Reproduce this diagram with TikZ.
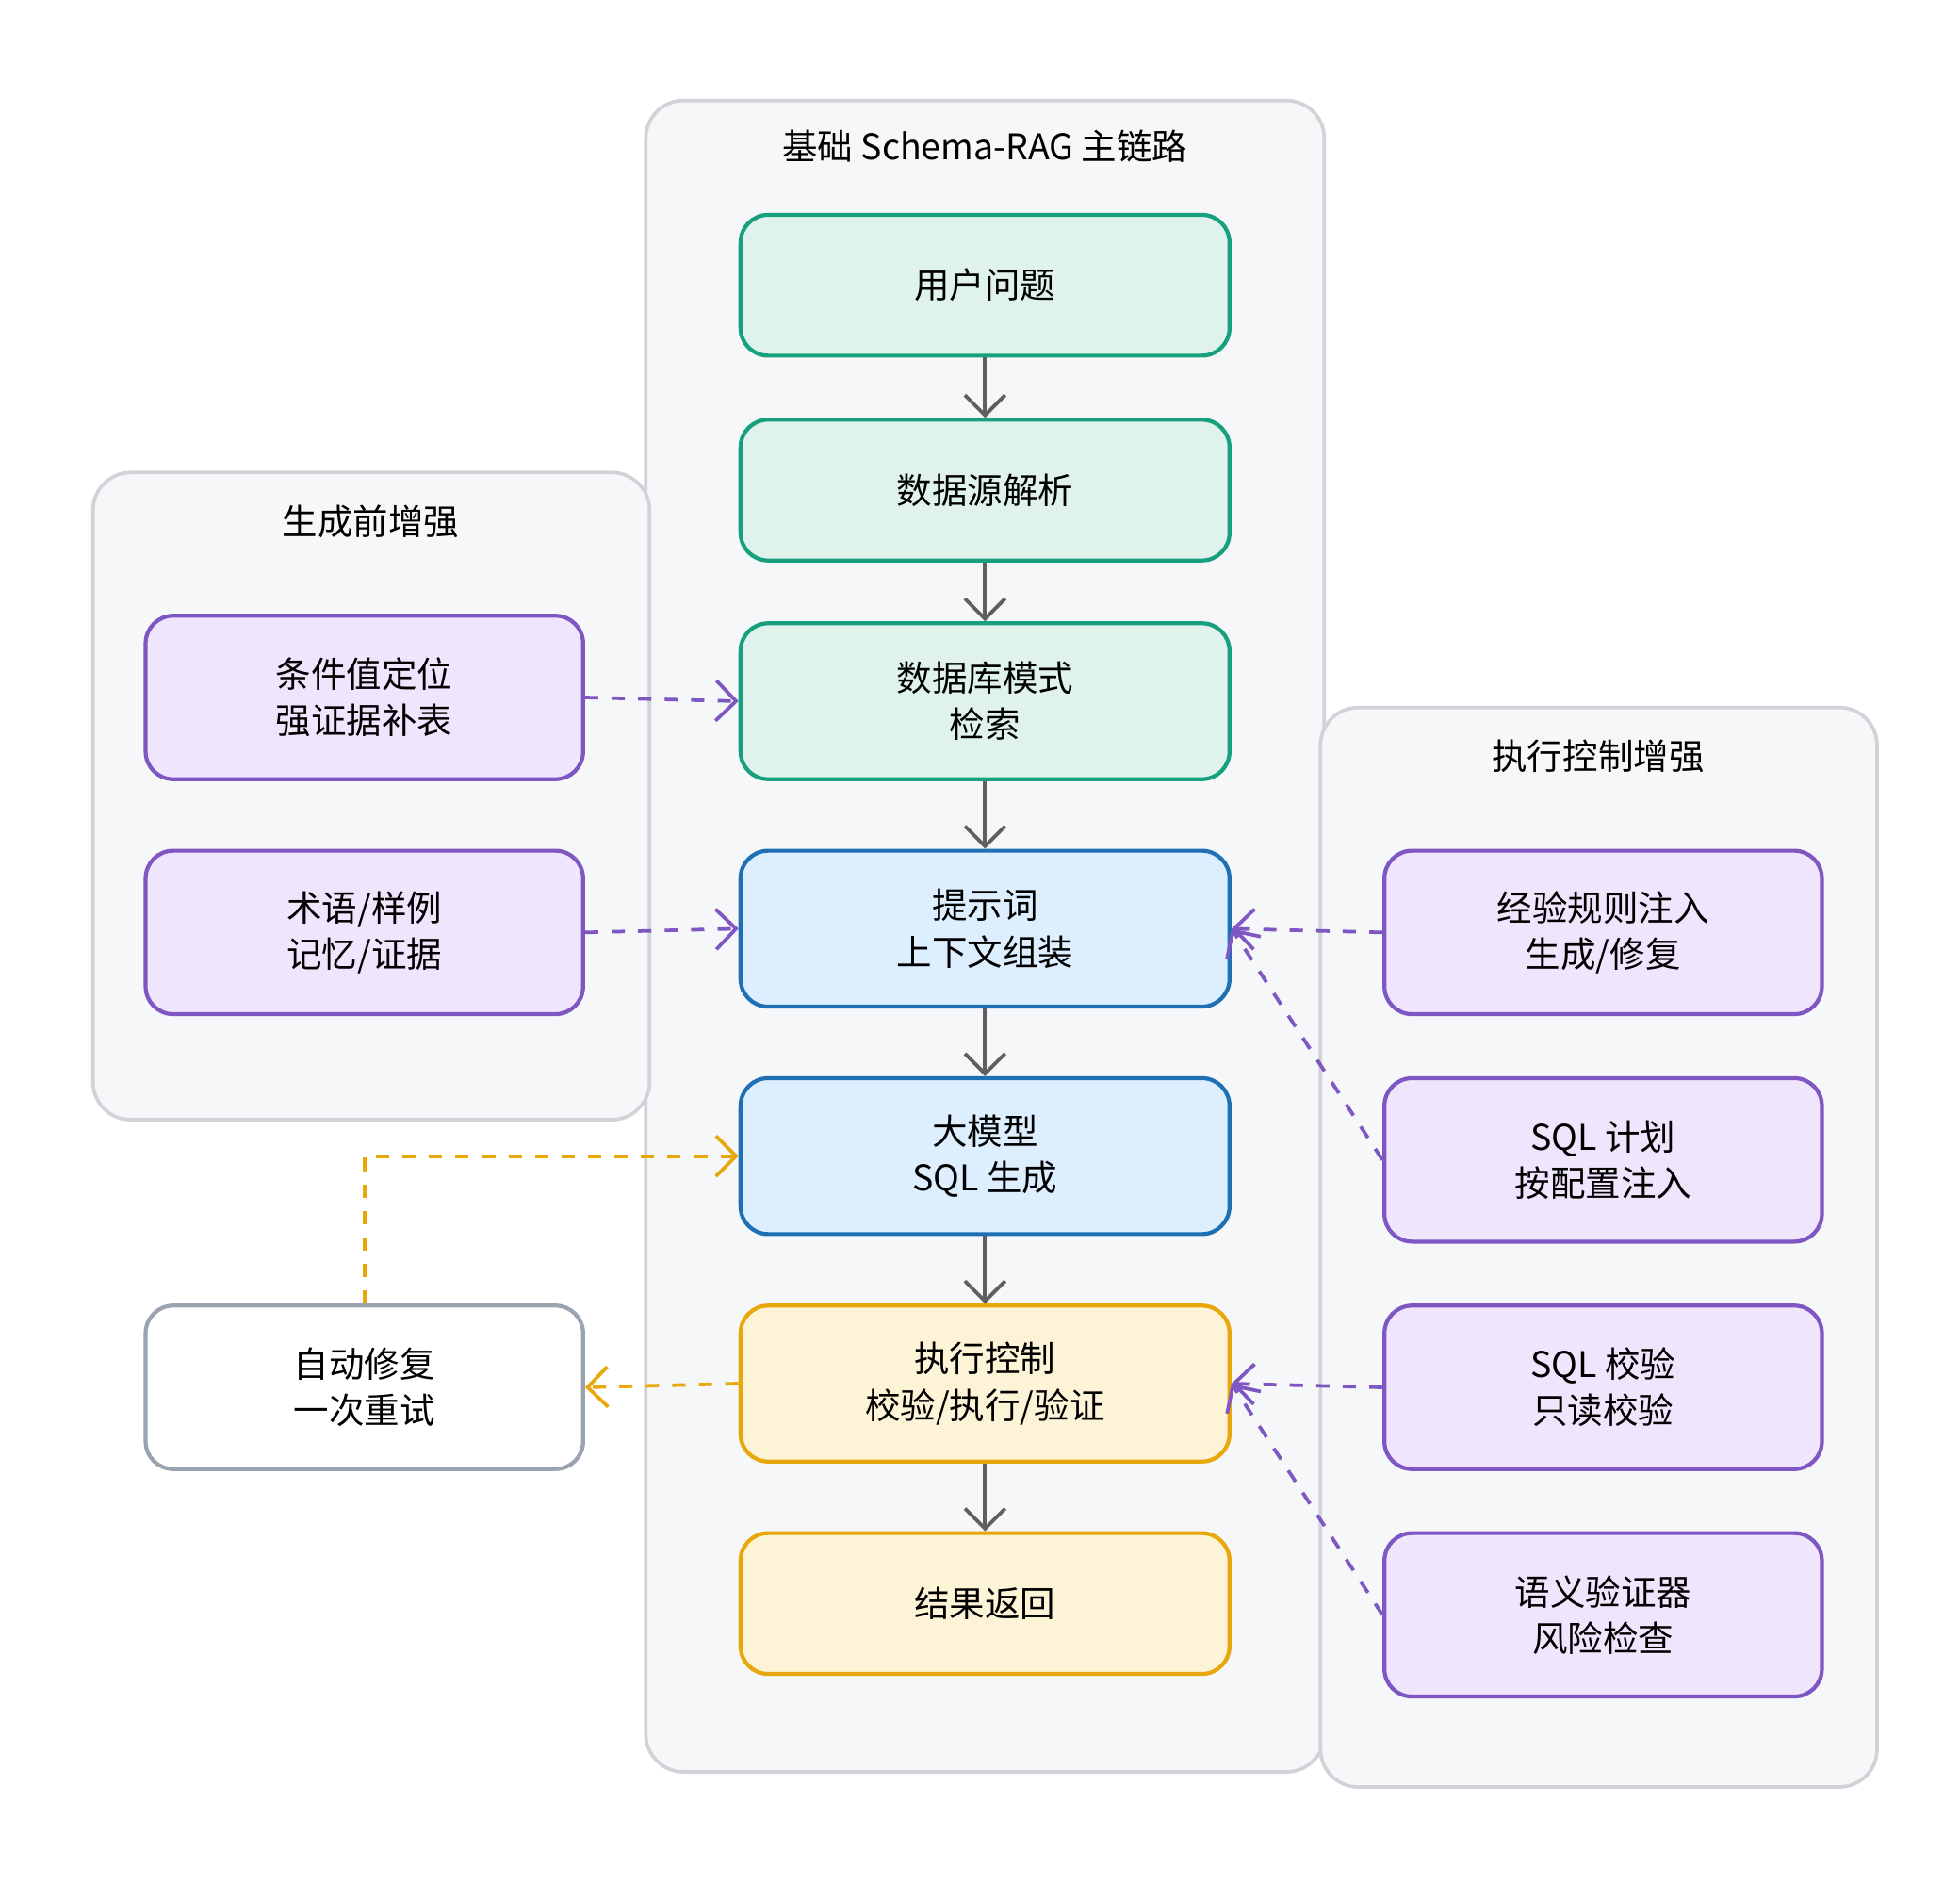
\documentclass[tikz,border=0pt]{standalone}
\usepackage{fontspec}
\setmainfont{Noto Sans CJK SC}
\usetikzlibrary{arrows.meta}
\definecolor{grnfill}{HTML}{DFF2EB}\definecolor{grnline}{HTML}{16A07E}
\definecolor{bluefill}{HTML}{DDEEFE}\definecolor{blueline}{HTML}{1F6FB5}
\definecolor{yelfill}{HTML}{FDF3D6}\definecolor{yelline}{HTML}{E8A70B}
\definecolor{purfill}{HTML}{EFE5FC}\definecolor{purline}{HTML}{7E57C2}
\definecolor{panfill}{HTML}{F6F7F9}\definecolor{panline}{HTML}{D2D3D8}
\definecolor{grayline}{HTML}{9AA3B0}\definecolor{flowline}{HTML}{5F5F5F}
\begin{document}
\begin{tikzpicture}[x=0.01cm, y=-0.01cm,
          every node/.style={font=\fontsize{8}{10.5}\selectfont, align=center},
          panel/.style={draw=panline, fill=panfill, line width=0.8pt, rounded corners=0.3cm},
          box/.style={rectangle, rounded corners=0.22cm, line width=0.9pt, minimum width=3.89cm},
          main/.style={box, minimum height=1.24cm},
          side/.style={box, minimum width=3.48cm, minimum height=1.30cm, draw=purline, fill=purfill},
          green/.style={main, draw=grnline, fill=grnfill},
          blue/.style={main, draw=blueline, fill=bluefill},
          yellow/.style={main, draw=yelline, fill=yelfill},
          flow/.style={draw=flowline, line width=0.8pt, -{Straight Barb[length=1.6mm]}},
          aux/.style={draw=purline, dashed, line width=0.8pt, -{Straight Barb[length=1.6mm]}},
          fix/.style={draw=yelline, dashed, line width=0.8pt, -{Straight Barb[length=1.6mm]}}
        ]
        \useasboundingbox (0,0) rectangle (1560,1500);

        % panels
        \draw[panel] (514,80) rectangle (1054,1410);
        \draw[panel] (74,376) rectangle (517,891);
        \draw[panel] (1051,563) rectangle (1494,1422);
        \node (tmain) at (784,116) {基础 Schema-RAG 主链路};
        \node (tpre) at (295,415) {生成前增强};
        \node (texec) at (1272,602) {执行控制增强};

        % main chain
        \node[green, minimum height=1.12cm] (ask) at (784,227) {用户问题};
        \node[green, minimum height=1.12cm] (parse) at (784,390) {数据源解析};
        \node[green] (schema) at (784,558) {数据库模式\\检索};
        \node[blue] (prompt) at (784,739) {提示词\\上下文组装};
        \node[blue] (llm) at (784,920) {大模型\\SQL 生成};
        \node[yellow] (exec) at (784,1101) {执行控制\\校验/执行/验证};
        \node[yellow, minimum height=1.12cm] (result) at (784,1276) {结果返回};

        % side boxes
        \node[side] (value) at (290,555) {条件值定位\\强证据补表};
        \node[side] (term) at (290,742) {术语/样例\\记忆/证据};
        \node[side, draw=grayline, fill=white] (repair) at (290,1104) {自动修复\\一次重试};
        \node[side] (rule) at (1276,742) {经验规则注入\\生成/修复};
        \node[side] (plan) at (1276,923) {SQL 计划\\按配置注入};
        \node[side] (check) at (1276,1104) {SQL 校验\\只读校验};
        \node[side] (sem) at (1276,1285) {语义验证器\\风险检查};

        \draw[flow] (ask) -- (parse);
        \draw[flow] (parse) -- (schema);
        \draw[flow] (schema) -- (prompt);
        \draw[flow] (prompt) -- (llm);
        \draw[flow] (llm) -- (exec);
        \draw[flow] (exec) -- (result);

        \draw[aux] (value.east) -- (schema.west);
        \draw[aux] (term.east) -- (prompt.west);
        \draw[aux] (rule.west) -- (prompt.east);
        \draw[aux] (plan.west) -- (prompt.east);
        \draw[aux] (check.west) -- (exec.east);
        \draw[aux] (sem.west) -- (exec.east);

        \draw[fix] (exec.west) -- (repair.east);
        \draw[fix] (repair.north) |- (llm.west);
        \end{tikzpicture}
\end{document}
